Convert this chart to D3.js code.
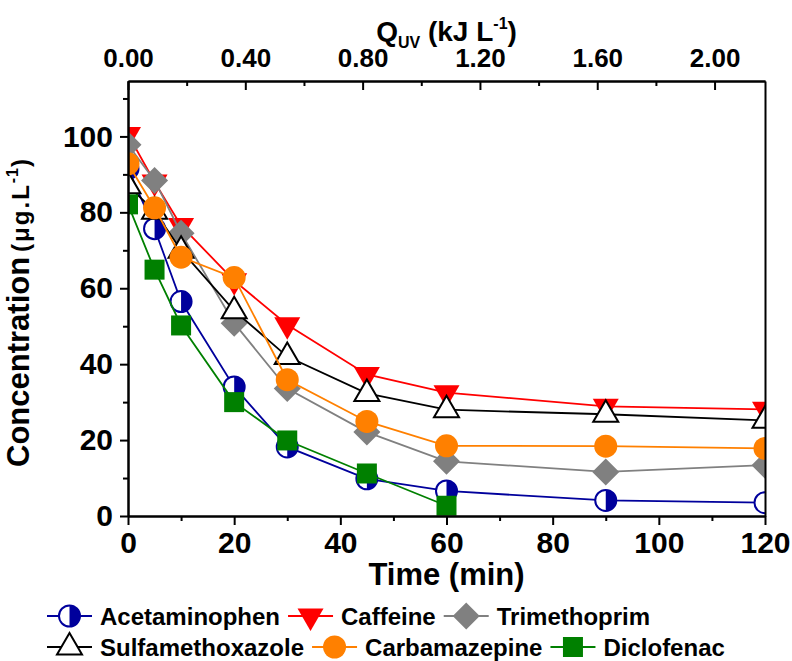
<!DOCTYPE html>
<html>
<head>
<meta charset="utf-8">
<script src="https://cdn.jsdelivr.net/npm/d3@7"></script>
<style>
  html, body { margin: 0; padding: 0; background: #fff; }
  svg { display: block; font-family: "Liberation Sans", Arial, sans-serif; }
</style>
</head>
<body>
<svg id="chart" width="792" height="661"></svg>
<script>
// Sampling times (min)
const times = [0, 5, 10, 20, 30, 45, 60, 90, 120];

// Concentration (µg/L) of each compound at the sampling times
const acetaminophen    = [91.5, 75.7, 56.5, 34.0, 18.2, 9.8, 6.6, 4.1, 3.5];
const caffeine         = [100.5, 88.0, 76.5, 62.0, 50.4, 37.3, 32.5, 28.9, 28.1];
const trimethoprim     = [97.8, 88.4, 74.5, 50.8, 33.6, 22.1, 14.4, 11.6, 13.4];
const sulfamethoxazole = [87.0, 80.3, 70.0, 54.1, 42.0, 32.3, 28.0, 26.8, 25.2];
const carbamazepine    = [92.8, 81.2, 68.2, 62.8, 35.9, 24.9, 18.5, 18.4, 17.8];
const diclofenac       = [82.1, 64.9, 50.2, 30.0, 19.9, 11.2, 2.7];

// Tick values
const timeTicks = [0, 20, 40, 60, 80, 100, 120];
const timeMinor = [10, 30, 50, 70, 90, 110];
const concTicks = [0, 20, 40, 60, 80, 100];
const concMinor = [10, 30, 50, 70, 90, 110];
const quvTicks  = [0, 0.4, 0.8, 1.2, 1.6, 2.0];
const quvMinor  = [0.2, 0.6, 1.0, 1.4, 1.8];

const seriesNames  = ["Acetaminophen", "Caffeine", "Trimethoprim", "Sulfamethoxazole", "Carbamazepine", "Diclofenac"];
const seriesValues = [acetaminophen, caffeine, trimethoprim, sulfamethoxazole, carbamazepine, diclofenac];
const seriesColors = ["#00009C", "#FF0000", "#808080", "#000000", "#FF8000", "#008000"];
const seriesShapes = ["halfcircle", "tridown", "diamond", "triup", "circle", "square"];

const svg = d3.select("#chart");
const plotLeft = 128, plotRight = 765, plotTop = 81, plotBottom = 516;

const x = d3.scaleLinear().domain([0, 120]).range([plotLeft, plotRight]);
const y = d3.scaleLinear().domain([0, 114.6]).range([plotBottom, plotTop]);
const xq = d3.scaleLinear().domain([0, 2.172]).range([plotLeft, plotRight]);

// clip region of the plotting frame
svg.append("defs").append("clipPath").attr("id", "plotClip")
  .append("rect").attr("x", plotLeft).attr("y", plotTop)
  .attr("width", plotRight - plotLeft).attr("height", plotBottom - plotTop);

// Marker drawing
function drawMarker(g, shape, color) {
  if (shape === "halfcircle") {
    g.append("circle").attr("r", 10.5).attr("fill", "#fff")
      .attr("stroke", color).attr("stroke-width", 2);
    g.append("path").attr("d", "M0,-10.5 A10.5,10.5 0 0 1 0,10.5 Z").attr("fill", color);
  } else if (shape === "tridown") {
    g.append("path").attr("d", "M-13,-7.5 L13,-7.5 L0,15 Z").attr("fill", color);
  } else if (shape === "triup") {
    g.append("path").attr("d", "M-12.5,7.5 L12.5,7.5 L0,-14 Z")
      .attr("fill", "#fff").attr("stroke", color).attr("stroke-width", 2)
      .attr("stroke-linejoin", "miter");
  } else if (shape === "diamond") {
    g.append("path").attr("d", "M0,-13.5 L13.5,0 L0,13.5 L-13.5,0 Z").attr("fill", color);
  } else if (shape === "circle") {
    g.append("circle").attr("r", 11.5).attr("fill", color);
  } else if (shape === "square") {
    g.append("rect").attr("x", -10).attr("y", -10).attr("width", 20).attr("height", 20).attr("fill", color);
  }
}

// Data series
const plot = svg.append("g").attr("clip-path", "url(#plotClip)");
const line = d3.line().x(d => x(d[0])).y(d => y(d[1]));
seriesValues.forEach((vals, i) => {
  const pts = vals.map((v, k) => [times[k], v]);
  const g = plot.append("g");
  g.append("path").datum(pts).attr("d", line)
    .attr("fill", "none").attr("stroke", seriesColors[i]).attr("stroke-width", 1.8);
  pts.forEach(p => {
    const m = g.append("g").attr("transform", `translate(${x(p[0])},${y(p[1])})`);
    drawMarker(m, seriesShapes[i], seriesColors[i]);
  });
});

// Axes
function styleAxis(g, fontSize) {
  g.select(".domain").attr("stroke", "#000").attr("stroke-width", 2);
  g.selectAll(".tick line").attr("stroke", "#000").attr("stroke-width", 2);
  g.selectAll(".tick text").attr("fill", "#000").attr("font-size", fontSize)
    .attr("font-weight", "bold").attr("font-family", "Liberation Sans, Arial, sans-serif");
}

// bottom
const gb = svg.append("g").attr("transform", `translate(0,${plotBottom})`);
gb.call(d3.axisBottom(x).tickValues(timeTicks).tickSize(9).tickSizeOuter(0).tickPadding(6.5).tickFormat(d3.format("d")));
styleAxis(gb, 30);
const gbm = svg.append("g").attr("transform", `translate(0,${plotBottom})`);
gbm.call(d3.axisBottom(x).tickValues(timeMinor).tickSize(5).tickSizeOuter(0).tickFormat(""));
styleAxis(gbm, 30);

// left
const gl = svg.append("g").attr("transform", `translate(${plotLeft},0)`);
gl.call(d3.axisLeft(y).tickValues(concTicks).tickSize(8).tickSizeOuter(0).tickPadding(7).tickFormat(d3.format("d")));
styleAxis(gl, 30);
const glm = svg.append("g").attr("transform", `translate(${plotLeft},0)`);
glm.call(d3.axisLeft(y).tickValues(concMinor).tickSize(5).tickSizeOuter(0).tickFormat(""));
styleAxis(glm, 30);

// top (inward ticks)
const gt = svg.append("g").attr("transform", `translate(0,${plotTop})`);
gt.call(d3.axisTop(xq).tickValues(quvTicks).tickSizeInner(-9).tickSizeOuter(0).tickPadding(14.5).tickFormat(d3.format(".2f")));
styleAxis(gt, 26);
const gtm = svg.append("g").attr("transform", `translate(0,${plotTop})`);
gtm.call(d3.axisTop(xq).tickValues(quvMinor).tickSizeInner(-5).tickSizeOuter(0).tickFormat(""));
styleAxis(gtm, 26);

// right frame
const gr = svg.append("g").attr("transform", `translate(${plotRight},0)`);
gr.call(d3.axisRight(y).tickValues([]).tickSizeOuter(0));
styleAxis(gr, 26);

// Axis titles
svg.append("text").attr("x", (plotLeft + plotRight) / 2).attr("y", 585)
  .attr("text-anchor", "middle").attr("font-size", 31).attr("font-weight", "bold")
  .text("Time (min)");

const qt = svg.append("text").attr("x", (plotLeft + plotRight) / 2).attr("y", 41)
  .attr("text-anchor", "middle").attr("font-size", 28).attr("font-weight", "bold");
qt.append("tspan").text("Q");
qt.append("tspan").attr("font-size", 16).attr("dy", 7).text("UV");
qt.append("tspan").attr("dy", -7).text(" (kJ L");
qt.append("tspan").attr("font-size", 16).attr("dy", -12).text("-1");
qt.append("tspan").attr("dy", 12).text(")");

const yt = svg.append("text")
  .attr("transform", "translate(29,467) rotate(-90)")
  .attr("text-anchor", "start").attr("font-size", 31).attr("font-weight", "bold");
yt.append("tspan").text("Concentration");
yt.append("tspan").attr("dx", 5).attr("font-size", 24).attr("letter-spacing", 2).text("(\u03BCg.L");
yt.append("tspan").attr("font-size", 16).attr("dy", -11).attr("letter-spacing", 1).text("-1");
yt.append("tspan").attr("font-size", 24).attr("dy", 11).text(")");

// Legend
const legendRows = [[0, 1, 2], [3, 4, 5]];
const rowY = [616, 647];
legendRows.forEach((row, r) => {
  let cx = 47;
  row.forEach(i => {
    const g = svg.append("g");
    g.append("line").attr("x1", cx).attr("x2", cx + 45).attr("y1", rowY[r]).attr("y2", rowY[r])
      .attr("stroke", seriesColors[i]).attr("stroke-width", 1.8);
    const m = g.append("g").attr("transform", `translate(${cx + 22.5},${rowY[r]})`);
    drawMarker(m, seriesShapes[i], seriesColors[i]);
    const t = g.append("text").attr("x", cx + 53).attr("y", rowY[r] + 8.5)
      .attr("font-size", 24).attr("font-weight", "bold").text(seriesNames[i]);
    cx = cx + 53 + t.node().getComputedTextLength() + 8;
  });
});
</script>
</body>
</html>
